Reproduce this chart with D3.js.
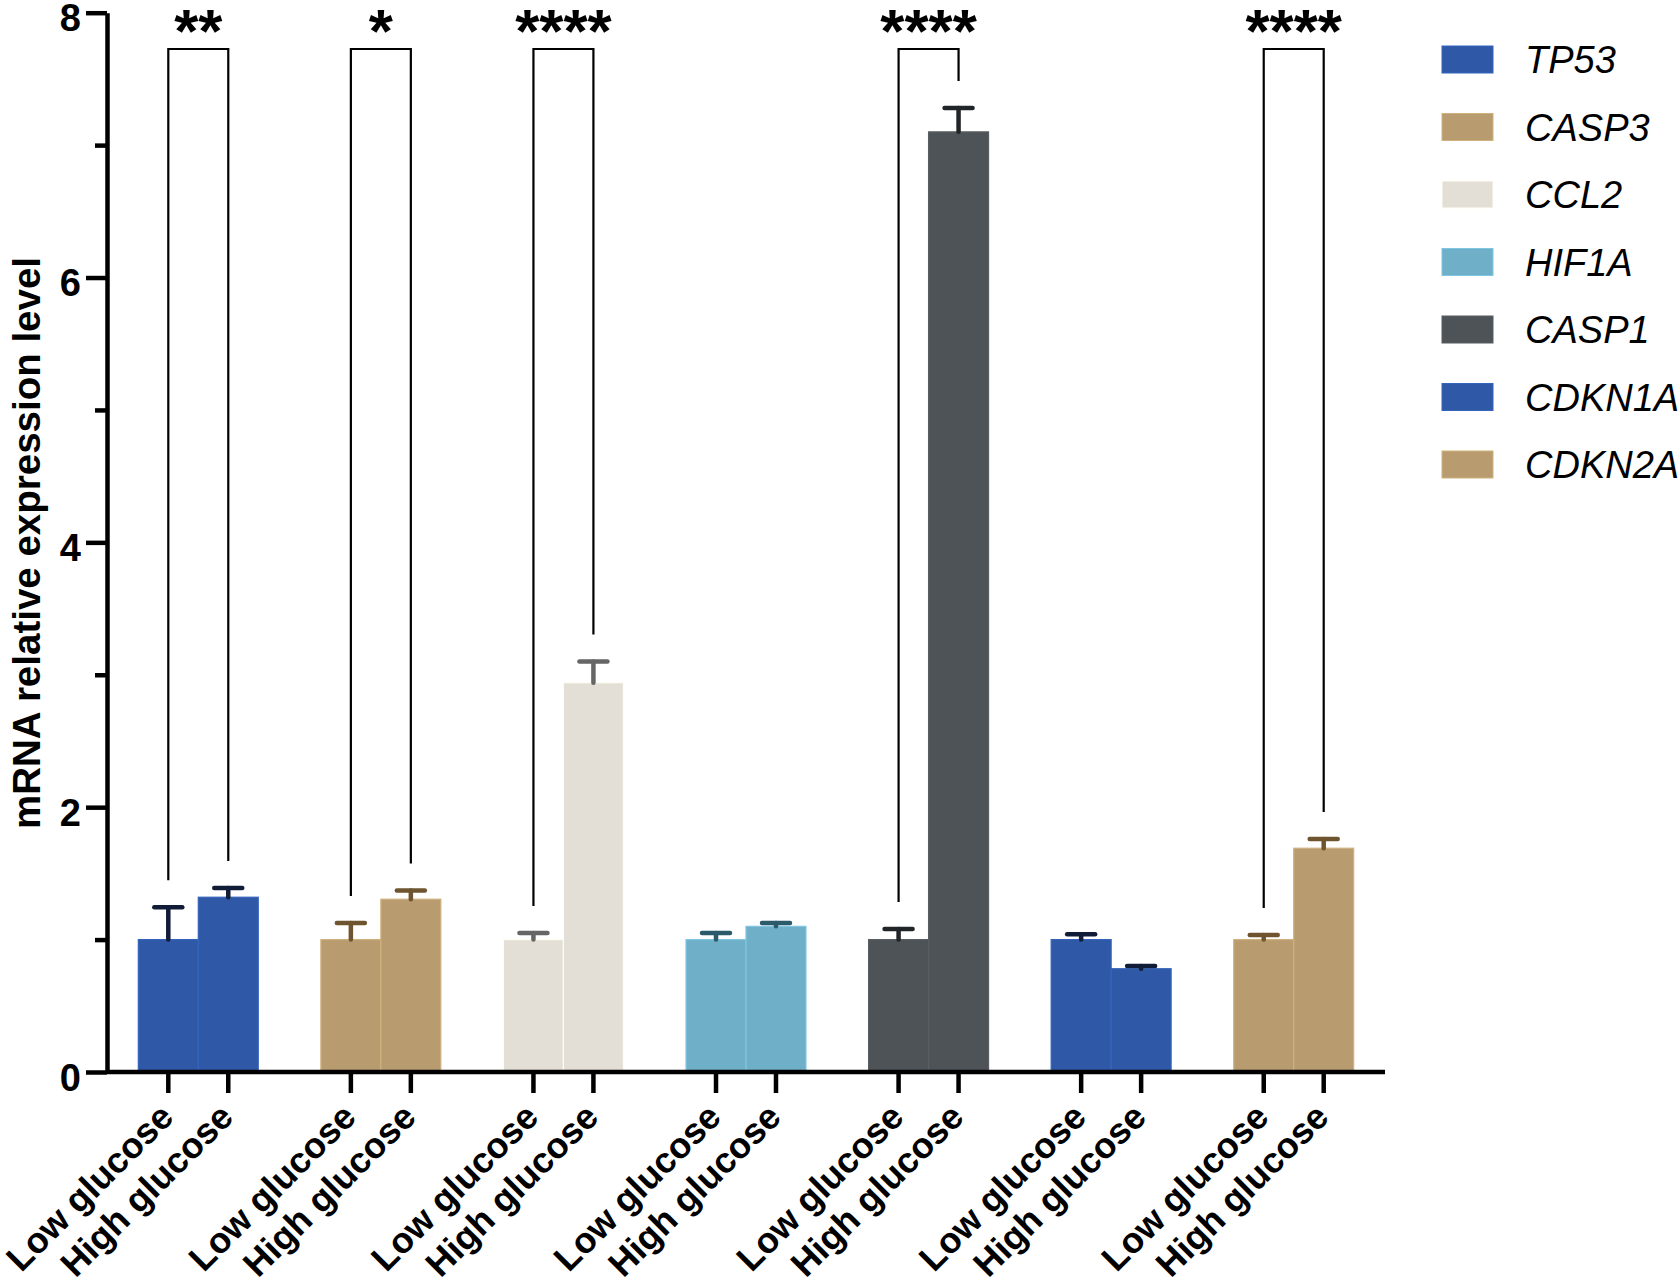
<!DOCTYPE html>
<html>
<head>
<meta charset="utf-8">
<script src="https://cdn.jsdelivr.net/npm/d3@7"></script>
<style>
  body { margin: 0; background: #fff; }
  svg { display: block; font-family: "Liberation Sans", Arial, sans-serif; }
</style>
</head>
<body>
<div class="canvas"></div>
<script>
const genes = ["TP53", "CASP3", "CCL2", "HIF1A", "CASP1", "CDKN1A", "CDKN2A"];
const conditions = ["Low glucose", "High glucose"];

// mean and upper error bar (SD) per gene, [low, high]
const lowMean = [1.0, 1.0, 1.0, 1.0, 1.0, 1.0, 1.0];
const lowSD = [0.245, 0.125, 0.05, 0.05, 0.08, 0.04, 0.035];
const highMean = [1.32, 1.305, 2.94, 1.1, 7.1, 0.78, 1.69];
const highSD = [0.07, 0.065, 0.16, 0.025, 0.18, 0.02, 0.07];

const significance = ["**", "*", "****", "", "****", "", "****"];

const yTicks = [0, 2, 4, 6, 8];
const yMinorTicks = [1, 3, 5, 7];

const barColors = ["#2f58a6", "#b89c6f", "#e3dfd6", "#70afc8", "#4e5357", "#2f58a6", "#b89c6f"];
const errColors = ["#111c38", "#6e5530", "#666666", "#2b5a6b", "#222528", "#111c38", "#6e5530"];

const width = 1680;
const height = 1280;
const margin = { left: 107, right: 295, top: 12.7, bottom: 208 };
const fontFamily = '"Liberation Sans", Arial, sans-serif';

const svg = d3.select(".canvas").append("svg")
  .attr("width", width)
  .attr("height", height);

const y = d3.scaleLinear()
  .domain([0, 8])
  .range([height - margin.bottom, margin.top]);

const x = d3.scaleBand()
  .domain(genes)
  .range([margin.left, width - margin.right])
  .paddingInner(0.343)
  .paddingOuter(0.1715);

const xInner = d3.scaleBand()
  .domain(conditions)
  .range([0, x.bandwidth()]);

const bars = [];
genes.forEach((g, i) => {
  bars.push({ gene: g, i: i, cond: conditions[0], mean: lowMean[i], sd: lowSD[i] });
  bars.push({ gene: g, i: i, cond: conditions[1], mean: highMean[i], sd: highSD[i] });
});
const cx = (d) => x(d.gene) + xInner(d.cond) + xInner.bandwidth() / 2;

// bars
svg.append("g")
  .selectAll("rect")
  .data(bars)
  .enter()
  .append("rect")
  .attr("x", (d) => x(d.gene) + xInner(d.cond))
  .attr("y", (d) => y(d.mean))
  .attr("width", xInner.bandwidth())
  .attr("height", (d) => y(0) - y(d.mean))
  .attr("fill", (d) => barColors[d.i])
  .attr("stroke", (d) => d3.color(barColors[d.i]).brighter(0.35))
  .attr("stroke-width", 1.2);

// error bars
const err = svg.append("g")
  .attr("stroke-width", 4.5)
  .attr("stroke-linecap", "round");

err.selectAll("line.stem")
  .data(bars)
  .enter()
  .append("line")
  .attr("class", "stem")
  .attr("x1", cx)
  .attr("x2", cx)
  .attr("y1", (d) => y(d.mean))
  .attr("y2", (d) => y(d.mean + d.sd))
  .attr("stroke", (d) => errColors[d.i]);

err.selectAll("line.cap")
  .data(bars)
  .enter()
  .append("line")
  .attr("class", "cap")
  .attr("x1", (d) => cx(d) - 14)
  .attr("x2", (d) => cx(d) + 14)
  .attr("y1", (d) => y(d.mean + d.sd))
  .attr("y2", (d) => y(d.mean + d.sd))
  .attr("stroke", (d) => errColors[d.i]);

// y axis
const yAxis = svg.append("g")
  .attr("transform", `translate(${margin.left},0)`)
  .call(d3.axisLeft(y).tickValues(yTicks).tickSize(21).tickSizeOuter(0).tickPadding(5));
yAxis.select(".domain").attr("stroke-width", 4.5);
yAxis.selectAll(".tick line").attr("stroke-width", 4.5);
yAxis.selectAll(".tick text")
  .attr("y", 6)
  .attr("font-family", fontFamily)
  .attr("font-size", 38)
  .attr("font-weight", "bold")
  .attr("fill", "#000");

const yMinor = svg.append("g")
  .attr("transform", `translate(${margin.left},0)`)
  .call(d3.axisLeft(y).tickValues(yMinorTicks).tickSize(12).tickFormat(""));
yMinor.select(".domain").remove();
yMinor.selectAll(".tick line").attr("stroke-width", 4.5);

// x axis line and ticks
const xAxis = svg.append("g");
xAxis.append("line")
  .attr("x1", margin.left)
  .attr("x2", width - margin.right)
  .attr("y1", y(0))
  .attr("y2", y(0))
  .attr("stroke", "#000")
  .attr("stroke-width", 4.5);

xAxis.selectAll("line.tick")
  .data(bars)
  .enter()
  .append("line")
  .attr("class", "tick")
  .attr("x1", cx)
  .attr("x2", cx)
  .attr("y1", y(0))
  .attr("y2", y(0) + 21)
  .attr("stroke", "#000")
  .attr("stroke-width", 4.5);

xAxis.selectAll("text")
  .data(bars)
  .enter()
  .append("text")
  .attr("transform", (d) => `translate(${cx(d) + 7},${y(0) + 47}) rotate(-45)`)
  .attr("text-anchor", "end")
  .attr("font-size", 36)
  .attr("font-weight", "bold")
  .text((d) => d.cond);

// y axis title
svg.append("text")
  .attr("transform", "translate(40,543) rotate(-90)")
  .attr("text-anchor", "middle")
  .attr("font-size", 38.5)
  .attr("font-weight", "bold")
  .text("mRNA relative expression level");

// significance brackets
const bracketTop = 49;
const sig = svg.append("g");
genes.forEach((g, i) => {
  if (!significance[i]) return;
  const xl = x(g) + xInner(conditions[0]) + xInner.bandwidth() / 2;
  const xh = x(g) + xInner(conditions[1]) + xInner.bandwidth() / 2;
  const yl = y(lowMean[i] + lowSD[i]) - 27;
  const yh = y(highMean[i] + highSD[i]) - 27;
  sig.append("path")
    .attr("d", `M${xl},${yl}V${bracketTop}H${xh}V${yh}`)
    .attr("fill", "none")
    .attr("stroke", "#000")
    .attr("stroke-width", 2.2);
  sig.append("text")
    .attr("x", (xl + xh) / 2)
    .attr("y", 52)
    .attr("text-anchor", "middle")
    .attr("font-size", 62)
    .attr("font-weight", "bold")
    .text(significance[i]);
});

// legend
const legend = svg.append("g")
  .attr("transform", "translate(1442,46)");
const item = legend.selectAll("g")
  .data(genes)
  .enter()
  .append("g")
  .attr("transform", (d, i) => `translate(0,${i * 67.5})`);
item.append("rect")
  .attr("width", 51)
  .attr("height", 27)
  .attr("fill", (d, i) => barColors[i])
  .attr("stroke", (d, i) => d3.color(barColors[i]).brighter(0.35))
  .attr("stroke-width", 1);
item.append("text")
  .attr("x", 83)
  .attr("y", 27)
  .attr("font-size", 38)
  .attr("font-style", "italic")
  .text((d) => d);
</script>
</body>
</html>
